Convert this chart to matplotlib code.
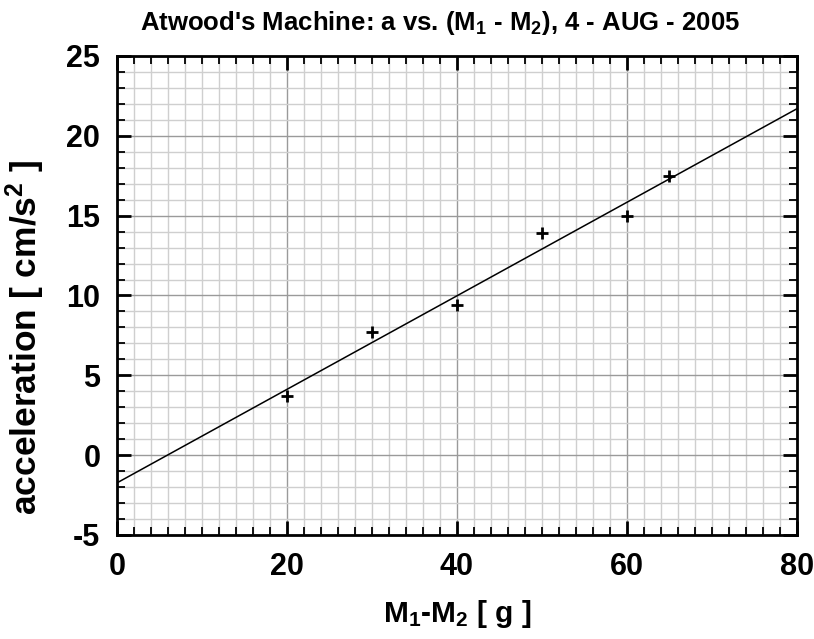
import matplotlib as mpl
mpl.use('Agg')
import matplotlib.pyplot as plt
from matplotlib.ticker import MultipleLocator
import numpy as np

mpl.rcParams.update({
    "font.family": "Liberation Sans",
    "font.weight": "bold",
    "mathtext.fontset": "custom",
    "mathtext.rm": "Liberation Sans:bold",
    "mathtext.it": "Liberation Sans:bold",
    "mathtext.bf": "Liberation Sans:bold",
    "mathtext.default": "rm",
    "axes.unicode_minus": False,
})

# data
mass_diff = np.array([20, 30, 40, 50, 60, 65])
accel = np.array([3.7, 7.7, 9.4, 13.9, 15.0, 17.5])

slope, intercept = np.polyfit(mass_diff, accel, 1)
fit_x = np.array([0, 80])

fig = plt.figure(figsize=(8.14, 6.39), dpi=100)
ax = fig.add_axes([0.1437, 0.1628, 0.8354, 0.7496])

ax.set_xlim(0, 80)
ax.set_ylim(-5, 25)

ax.xaxis.set_major_locator(MultipleLocator(20))
ax.xaxis.set_minor_locator(MultipleLocator(2))
ax.yaxis.set_major_locator(MultipleLocator(5))
ax.yaxis.set_minor_locator(MultipleLocator(1))

ax.grid(which='minor', color='#cfcfcf', linewidth=1.0, zorder=0)
ax.grid(which='major', color='#9a9a9a', linewidth=1.0, zorder=0)
ax.set_axisbelow(True)

ax.tick_params(which='both', direction='in', top=True, right=True, color='k')
ax.tick_params(which='major', length=10, width=2.0, labelsize=22, pad=12)
ax.tick_params(which='minor', length=6, width=1.3)
for sp in ax.spines.values():
    sp.set_linewidth(2.0)

ax.plot(fit_x, intercept + slope * fit_x, color='k', linewidth=1.1, zorder=3)
ax.plot(mass_diff, accel, linestyle='none', marker='+', color='k',
        markersize=8, markeredgewidth=2.0, zorder=4)

ax.set_xlabel(r"M$_1$-M$_2$ [ g ]", fontsize=21.5, fontweight='bold', labelpad=12)
ax.set_ylabel(r"acceleration [ cm/s$^2$ ]", fontsize=25.5, fontweight='bold')
ax.yaxis.set_label_coords(-0.103, 0.413)
ax.set_title(r"Atwood's Machine: a vs. (M$_1$ - M$_2$), 4 - AUG - 2005",
             fontsize=18.5, fontweight='bold', pad=19, x=0.475)

fig.savefig("out.png", dpi=100)
